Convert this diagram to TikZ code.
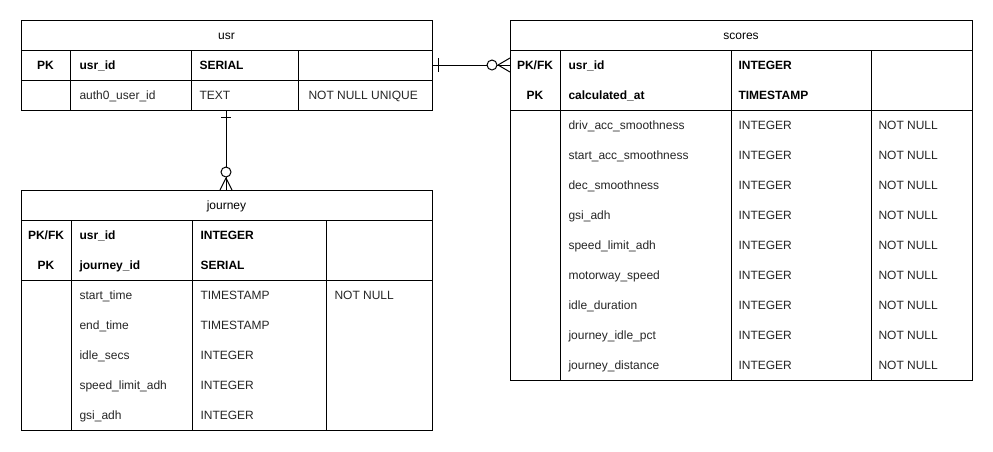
\documentclass[tikz,border=0pt]{standalone}
\usepackage{fontspec}
\setmainfont{Liberation Sans}
\usetikzlibrary{calc}
\begin{document}
\begin{tikzpicture}[x=1pt,y=-1pt,line width=1pt,
  tbl/.style={draw, rectangle, anchor=north west, inner sep=0pt, outer sep=0pt},
  title/.style={font=\fontsize{12}{14}\selectfont, inner sep=0pt, anchor=base},
  keyc/.style={font=\fontsize{12}{14}\selectfont\bfseries, inner sep=0pt, anchor=base},
  keyt/.style={font=\fontsize{12}{14}\selectfont\bfseries, inner sep=0pt, anchor=base west},
  attr/.style={font=\fontsize{12}{14}\selectfont, text=black!85, inner sep=0pt, anchor=base west},
  ring/.style={draw, fill=white, line width=1pt}
]
% canvas
\path[fill=white] (0,0) rectangle (993,451);

% ---------- usr ----------
\node[tbl, minimum width=411pt, minimum height=90pt] (usr) at (21,20) {};
\draw (21,50) -- (432,50);
\draw (21,80) -- (432,80);
\foreach \cx in {70,191,298} \draw (\cx,50) -- (\cx,110);
\node[title] (usrT) at (226.5,39.3) {usr};
\node[keyc] (usrK1) at (45.5,69.3) {PK};
\node[keyt] (usrN1) at (79,69.3) {usr\_id};
\node[keyt] (usrY1) at (199,69.3) {SERIAL};
\node[attr] (usrN2) at (79,99.3) {auth0\_user\_id};
\node[attr] (usrY2) at (199,99.3) {TEXT};
\node[attr] (usrC2) at (308,99.3) {NOT NULL UNIQUE};

% ---------- journey ----------
\node[tbl, minimum width=411pt, minimum height=240pt] (journey) at (21,190) {};
\draw (21,220) -- (432,220);
\draw (21,280) -- (432,280);
\foreach \cx in {71,192,326} \draw (\cx,220) -- (\cx,430);
\node[title] (jT) at (226.5,209.3) {journey};
\node[keyc] (jK1) at (46,239.3) {PK/FK};
\node[keyt] (jN1) at (79,239.3) {usr\_id};
\node[keyt] (jY1) at (200,239.3) {INTEGER};
\node[keyc] (jK2) at (46,269.3) {PK};
\node[keyt] (jN2) at (79,269.3) {journey\_id};
\node[keyt] (jY2) at (200,269.3) {SERIAL};
\foreach \nm/\ty [count=\i from 0] in {start\_time/TIMESTAMP, end\_time/TIMESTAMP,
    idle\_secs/INTEGER, speed\_limit\_adh/INTEGER, gsi\_adh/INTEGER}{
  \node[attr] (jN\i) at (79,299.3+30*\i) {\nm};
  \node[attr] (jY\i) at (200,299.3+30*\i) {\ty};
}
\node[attr] (jC0) at (334,299.3) {NOT NULL};

% ---------- scores ----------
\node[tbl, minimum width=462pt, minimum height=360pt] (scores) at (510,20) {};
\draw (510,50) -- (972,50);
\draw (510,110) -- (972,110);
\foreach \cx in {560,731,871} \draw (\cx,50) -- (\cx,380);
\node[title] (sT) at (741,39.3) {scores};
\node[keyc] (sK1) at (535,69.3) {PK/FK};
\node[keyt] (sN1) at (568,69.3) {usr\_id};
\node[keyt] (sY1) at (738,69.3) {INTEGER};
\node[keyc] (sK2) at (535,99.3) {PK};
\node[keyt] (sN2) at (568,99.3) {calculated\_at};
\node[keyt] (sY2) at (738,99.3) {TIMESTAMP};
\foreach \nm [count=\i from 0] in {driv\_acc\_smoothness, start\_acc\_smoothness,
    dec\_smoothness, gsi\_adh, speed\_limit\_adh, motorway\_speed, idle\_duration,
    journey\_idle\_pct, journey\_distance}{
  \node[attr] (sN\i) at (568,129.3+30*\i) {\nm};
  \node[attr] (sY\i) at (738,129.3+30*\i) {INTEGER};
  \node[attr] (sC\i) at (878,129.3+30*\i) {NOT NULL};
}

% ---------- relationships ----------
\coordinate (uRow) at (0,65);
\coordinate (uCol) at (226,0);
% usr (one) -- scores (zero or many)
\draw (usr.east |- uRow) -- (scores.west |- uRow);
\draw ($(usr.east |- uRow)+(6,-7)$) -- ++(0,14);
\draw ($(scores.west |- uRow)+(-12,0)$) -- ($(scores.west |- uRow)+(0,-7)$);
\draw ($(scores.west |- uRow)+(-12,0)$) -- ($(scores.west |- uRow)+(0,7)$);
\draw[ring] ($(scores.west |- uRow)+(-18,0)$) circle (5);
% usr (one) -- journey (zero or many)
\draw (usr.south -| uCol) -- (journey.north -| uCol);
\draw ($(usr.south -| uCol)+(-5,7)$) -- ++(10,0);
\draw ($(journey.north -| uCol)+(0,-12)$) -- ($(journey.north -| uCol)+(-6,0)$);
\draw ($(journey.north -| uCol)+(0,-12)$) -- ($(journey.north -| uCol)+(6,0)$);
\draw[ring] ($(journey.north -| uCol)+(0,-18)$) circle (5);
\end{tikzpicture}
\end{document}
